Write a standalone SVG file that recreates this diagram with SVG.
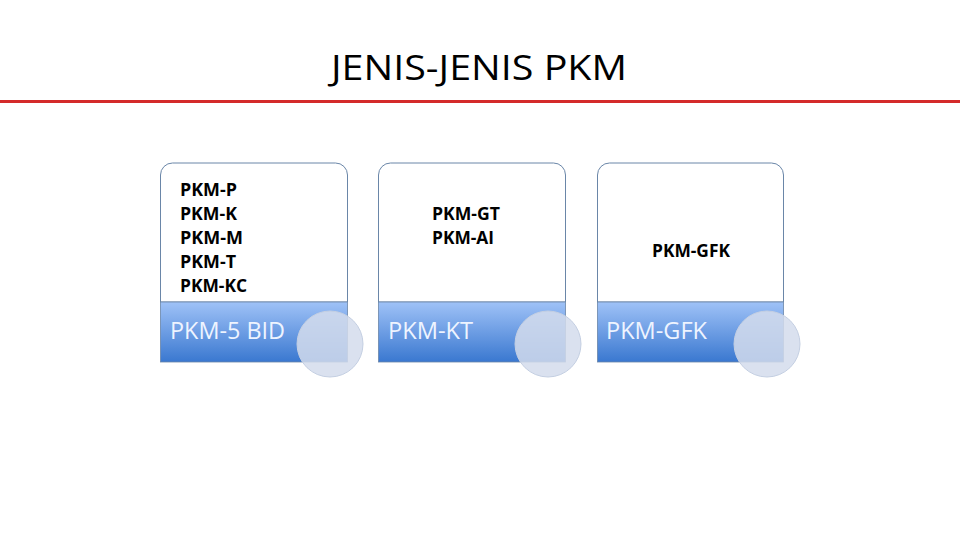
<svg xmlns="http://www.w3.org/2000/svg" width="960" height="540" viewBox="0 0 960 540">
<defs>
<linearGradient id="band" x1="0" y1="0" x2="0" y2="1">
<stop offset="0" stop-color="#9fc2f7"/>
<stop offset="1" stop-color="#3a78d0"/>
</linearGradient>
<style>
.card{fill:#ffffff;stroke:#6a86a8;stroke-width:1}
.band{fill:url(#band);stroke:#6a86a8;stroke-width:0.8}
.circ{fill:#d3dcec;fill-opacity:0.85;stroke:#c4cfe2;stroke-width:1}
.item{font-family:"Open Sans","Liberation Sans",sans-serif;font-weight:bold;font-size:17px;fill:#000}
.lab{font-family:"Open Sans","Liberation Sans",sans-serif;font-size:23px;fill:#eef4ff}
.title{font-family:"Open Sans","Liberation Sans",sans-serif;font-size:34px;fill:#000}
</style>
</defs>
<rect width="960" height="540" fill="#ffffff"/>
<text class="title" x="479" y="80" text-anchor="middle" textLength="296" lengthAdjust="spacingAndGlyphs">JENIS-JENIS PKM</text>
<line x1="0" y1="101.5" x2="960" y2="101.5" stroke="#d42a2a" stroke-width="3"/>

<g id="node1">
<path class="card" d="M160.5,302 V175 a12,12 0 0 1 12,-12 H335.5 a12,12 0 0 1 12,12 V302 Z"/>
<text class="item" x="180" y="196" textLength="57" lengthAdjust="spacingAndGlyphs">PKM-P</text>
<text class="item" x="180" y="220" textLength="57" lengthAdjust="spacingAndGlyphs">PKM-K</text>
<text class="item" x="180" y="244" textLength="63" lengthAdjust="spacingAndGlyphs">PKM-M</text>
<text class="item" x="180" y="268" textLength="56" lengthAdjust="spacingAndGlyphs">PKM-T</text>
<text class="item" x="180" y="292" textLength="67" lengthAdjust="spacingAndGlyphs">PKM-KC</text>
<rect class="band" x="160.5" y="302" width="187" height="60"/>
<text class="lab" x="170" y="339" textLength="115" lengthAdjust="spacingAndGlyphs">PKM-5 BID</text>
<circle class="circ" cx="330" cy="344" r="33"/>
</g>

<g id="node2">
<path class="card" d="M378.5,302 V175 a12,12 0 0 1 12,-12 H553.5 a12,12 0 0 1 12,12 V302 Z"/>
<text class="item" x="432" y="220" textLength="68" lengthAdjust="spacingAndGlyphs">PKM-GT</text>
<text class="item" x="432" y="244" textLength="62" lengthAdjust="spacingAndGlyphs">PKM-AI</text>
<rect class="band" x="378.5" y="302" width="187" height="60"/>
<text class="lab" x="388" y="339" textLength="85" lengthAdjust="spacingAndGlyphs">PKM-KT</text>
<circle class="circ" cx="548" cy="344" r="33"/>
</g>

<g id="node3">
<path class="card" d="M597.5,302 V175 a12,12 0 0 1 12,-12 H771.5 a12,12 0 0 1 12,12 V302 Z"/>
<text class="item" x="652" y="257" textLength="78" lengthAdjust="spacingAndGlyphs">PKM-GFK</text>
<rect class="band" x="597.5" y="302" width="186" height="60"/>
<text class="lab" x="606" y="339" textLength="101" lengthAdjust="spacingAndGlyphs">PKM-GFK</text>
<circle class="circ" cx="767" cy="344" r="33"/>
</g>

<g id="connectors"></g>
</svg>
